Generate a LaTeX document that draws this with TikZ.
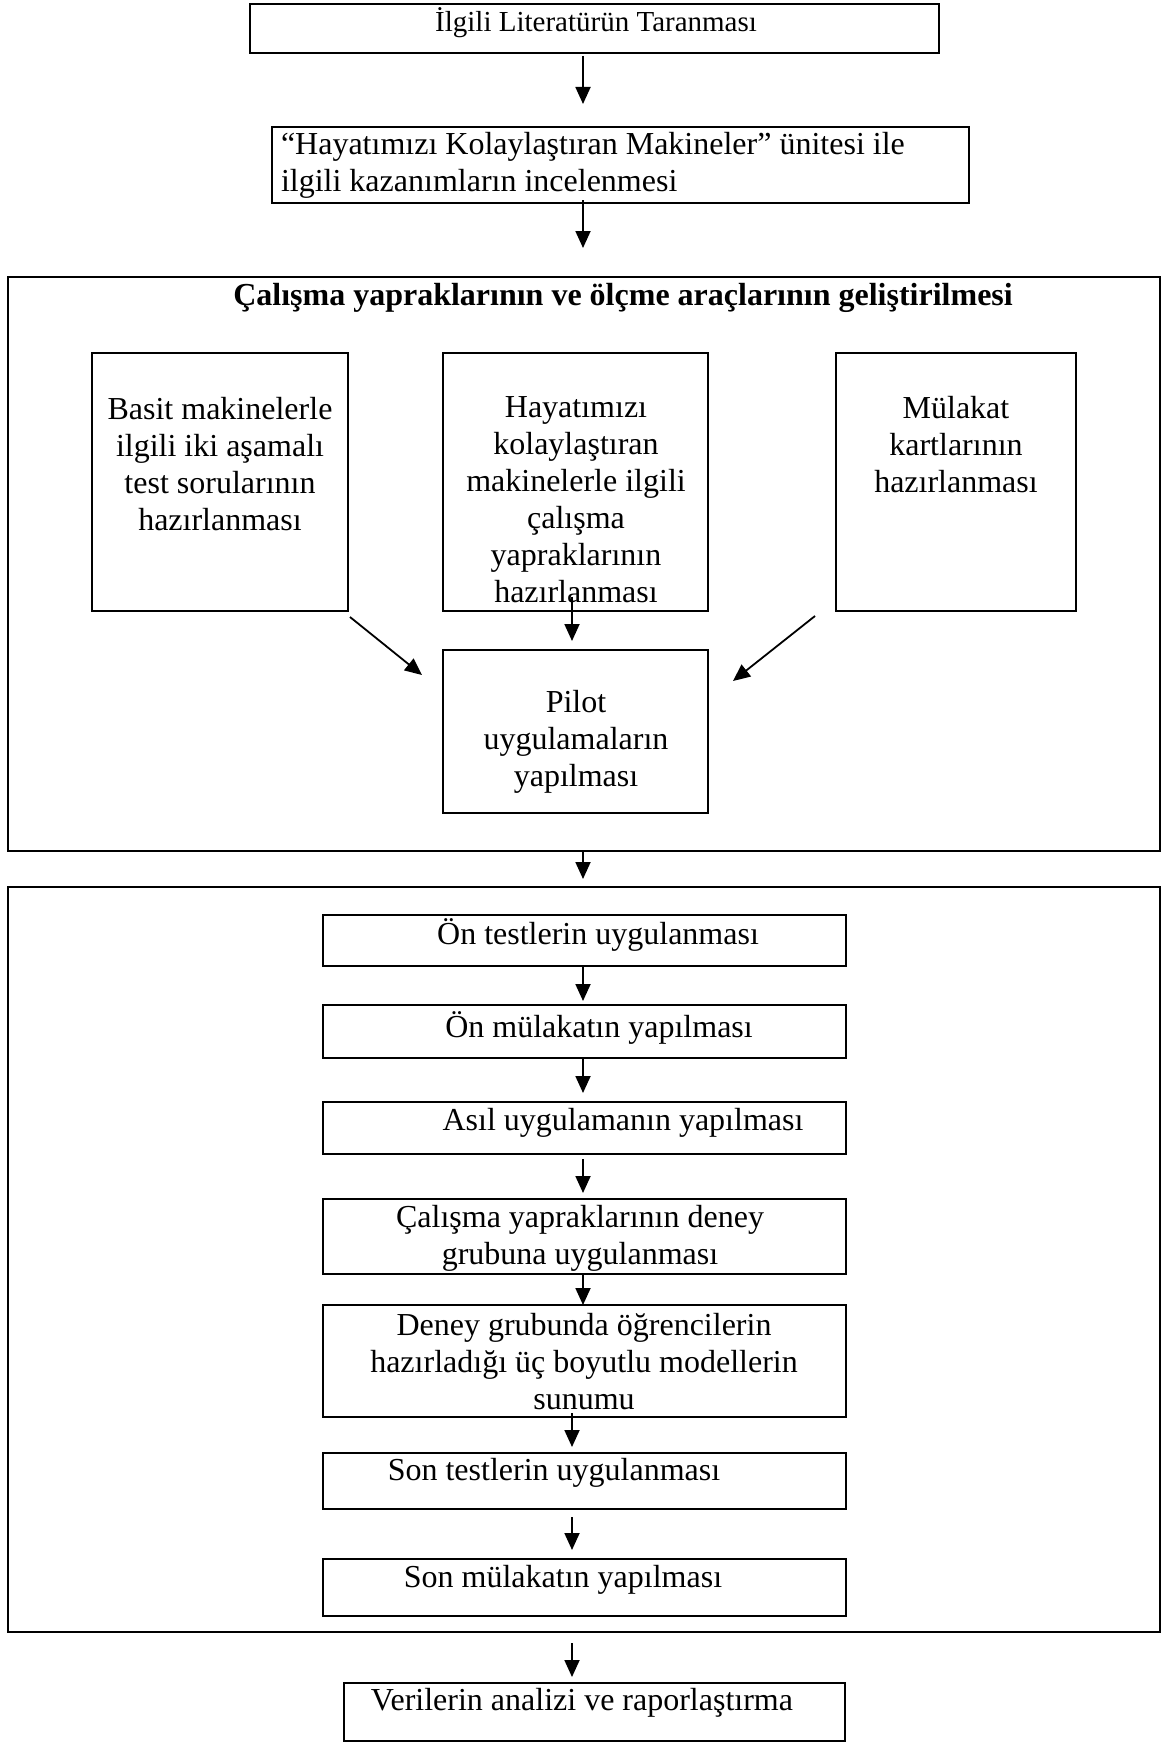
\documentclass[tikz,border=0pt]{standalone}
\usepackage{fontspec}
\setmainfont{Liberation Serif}
\usetikzlibrary{arrows.meta,calc}
\begin{document}
\begin{tikzpicture}[x=1pt,y=-1pt,
  box/.style={draw, line width=1.9pt, inner sep=0pt, outer sep=0pt, rectangle},
  frame/.style={draw, line width=2.1pt, inner sep=0pt, outer sep=0pt, rectangle},
  txt/.style={inner sep=0pt, outer sep=0pt, align=center, font=\fontsize{32}{37}\selectfont},
  arr/.style={line width=1.8pt, -{Triangle[length=17pt,width=15pt]}}]
\useasboundingbox (0,0) rectangle (1161,1742);
\coordinate (sx) at (583,0);
\coordinate (sy) at (572,0);
% boxes
\node[box, minimum width=689pt, minimum height=49pt] (b1) at (594.5,28.5) {};
\node[box, minimum width=697pt, minimum height=76pt] (b2) at (620.5,165) {};
\node[frame, minimum width=1152pt, minimum height=574pt] (oa) at (584,564) {};
\node[box, minimum width=256pt, minimum height=258pt] (bL) at (220,482) {};
\node[box, minimum width=265pt, minimum height=258pt] (bM) at (575.5,482) {};
\node[box, minimum width=240pt, minimum height=258pt] (bR) at (956,482) {};
\node[box, minimum width=265pt, minimum height=163pt] (pilot) at (575.5,731.5) {};
\node[frame, minimum width=1152pt, minimum height=745pt] (ob) at (584,1259.5) {};
\node[box, minimum width=523pt, minimum height=51pt] (c1) at (584.5,940.5) {};
\node[box, minimum width=523pt, minimum height=53pt] (c2) at (584.5,1031.5) {};
\node[box, minimum width=523pt, minimum height=52pt] (c3) at (584.5,1128) {};
\node[box, minimum width=523pt, minimum height=75pt] (c4) at (584.5,1236.5) {};
\node[box, minimum width=523pt, minimum height=112pt] (c5) at (584.5,1361) {};
\node[box, minimum width=523pt, minimum height=56pt] (c6) at (584.5,1481) {};
\node[box, minimum width=523pt, minimum height=57pt] (c7) at (584.5,1587.5) {};
\node[box, minimum width=501pt, minimum height=58pt] (c8) at (594.5,1712) {};
% texts
\node[txt, font=\fontsize{29}{34}\selectfont] (t1) at (596,23) {İlgili Literatürün Taranması};
\node[txt, align=left, anchor=west] (t2) at (281,165) {“Hayatımızı Kolaylaştıran Makineler” ünitesi ile\\ilgili kazanımların incelenmesi};
\node[txt, font=\fontsize{32}{37}\selectfont\bfseries] (title) at (623,298) {Çalışma yapraklarının ve ölçme araçlarının geliştirilmesi};
\node[txt] (tL) at (220,464) {Basit makinelerle\\ilgili iki aşamalı\\test sorularının\\hazırlanması};
\node[txt] (tM) at (576,500) {Hayatımızı\\kolaylaştıran\\makinelerle ilgili\\çalışma\\yapraklarının\\hazırlanması};
\node[txt] (tR) at (956,445) {Mülakat\\kartlarının\\hazırlanması};
\node[txt] (tP) at (576,742) {Pilot\\uygulamaların\\yapılması};
\node[txt] (tc1) at (598,935) {Ön testlerin uygulanması};
\node[txt] (tc2) at (599,1028) {Ön mülakatın yapılması};
\node[txt] (tc3) at (623,1123) {Asıl uygulamanın yapılması};
\node[txt] (tc4) at (580,1238) {Çalışma yapraklarının deney\\grubuna uygulanması};
\node[txt] (tc5) at (584,1362) {Deney grubunda öğrencilerin\\hazırladığı üç boyutlu modellerin\\sunumu};
\node[txt] (tc6) at (554,1473) {Son testlerin uygulanması};
\node[txt] (tc7) at (563,1580) {Son mülakatın yapılması};
\node[txt] (tc8) at (582,1703) {Verilerin analizi ve raporlaştırma};
% arrows
\draw[arr, shorten <=3pt, shorten >=23pt] (b1.south -| sx) -- (b2.north -| sx);
\draw[arr, shorten <=-3pt, shorten >=29pt] (b2.south -| sx) -- (oa.north -| sx);
\draw[arr] ($(bL.south east)+(2,6)$) -- ($(pilot.north west)+(-21,25)$);
\draw[arr, shorten <=-14pt, shorten >=9pt] (bM.south -| sy) -- (pilot.north -| sy);
\draw[arr] ($(bR.south west)+(-21,5)$) -- ($(pilot.north east)+(25,31)$);
\draw[arr, shorten <=0pt, shorten >=8pt] (oa.south -| sx) -- (ob.north -| sx);
\draw[arr, shorten <=1pt, shorten >=4pt] (c1.south -| sx) -- (c2.north -| sx);
\draw[arr, shorten <=1pt, shorten >=9pt] (c2.south -| sx) -- (c3.north -| sx);
\draw[arr, shorten <=5pt, shorten >=6pt] (c3.south -| sx) -- (c4.north -| sx);
\draw[arr, shorten <=1pt, shorten >=0pt] (c4.south -| sx) -- (c5.north -| sx);
\draw[arr, shorten <=-4pt, shorten >=6pt] (c5.south -| sy) -- (c6.north -| sy);
\draw[arr, shorten <=8pt, shorten >=9pt] (c6.south -| sy) -- (c7.north -| sy);
\draw[arr, shorten <=11pt, shorten >=6pt] (ob.south -| sy) -- (c8.north -| sy);
\end{tikzpicture}
\end{document}
